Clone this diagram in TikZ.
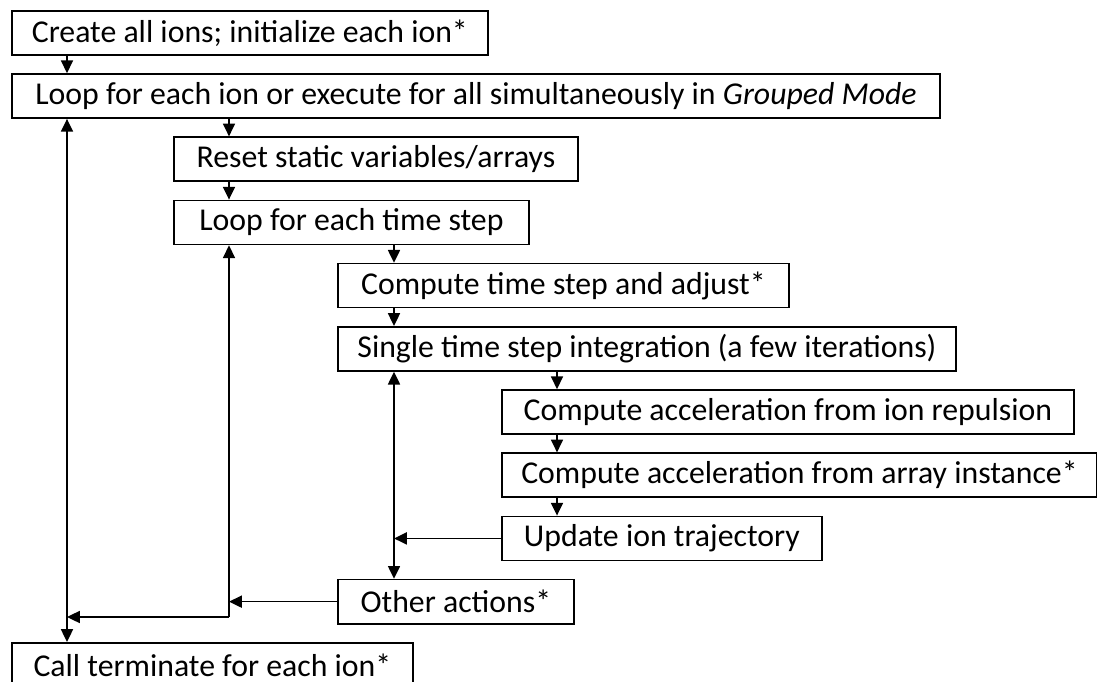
\documentclass[tikz,border=0pt]{standalone}
\usepackage{fontspec}
\setmainfont{Carlito}
\usetikzlibrary{arrows.meta}

\begin{document}
\begin{tikzpicture}[x=0.025cm, y=-0.025cm,
    stepbox/.style={draw, line width=1.2pt, anchor=north west, minimum height=1.1cm, inner xsep=0pt, font=\fontsize{22.6}{27}\selectfont},
    flow/.style={line width=1.2pt, -{Triangle[length=3.2mm, width=3mm]}},
    both/.style={line width=1.2pt, {Triangle[length=3.2mm, width=3mm]}-{Triangle[length=3.2mm, width=3mm]}}]
    \useasboundingbox (0, 0) rectangle (1097, 682);

    % Columns of the connectors
    \coordinate (c0) at (67, 0);
    \coordinate (c1) at (229, 0);
    \coordinate (c2) at (394, 0);
    \coordinate (c3) at (557, 0);

    % Outer loop
    \node[stepbox, minimum width=11.9cm] (create) at (11, 10) {Create all ions; initialize each ion*};
    \node[stepbox, minimum width=23.2cm] (ionloop) at (11, 73.2) {Loop for each ion or execute for all simultaneously in \textit{Grouped Mode}};

    % Time step loop
    \node[stepbox, minimum width=10.1cm] (reset) at (173, 136.4) {Reset static variables/arrays};
    \node[stepbox, minimum width=8.875cm] (steploop) at (173, 199.6) {Loop for each time step};

    % Integration
    \node[stepbox, minimum width=11.275cm] (adjust) at (337, 262.8) {Compute time step and adjust*};
    \node[stepbox, minimum width=15.45cm] (single) at (337, 326) {Single time step integration (a few iterations)};

    % Iterations
    \node[stepbox, minimum width=14.3cm] (repulsion) at (501, 389.2) {Compute acceleration from ion repulsion};
    \node[stepbox, minimum width=14.875cm] (instance) at (501, 452.4) {Compute acceleration from array instance*};
    \node[stepbox, minimum width=8cm] (update) at (501, 515.6) {Update ion trajectory};

    % Closing steps
    \node[stepbox, minimum width=5.9cm] (other) at (337, 578.8) {Other actions*};
    \node[stepbox, minimum width=10.025cm] (term) at (11, 642) {Call terminate for each ion*};

    % Downward arrows
    \draw[flow] (create.south -| c0) -- (ionloop.north -| c0);
    \draw[flow] (ionloop.south -| c1) -- (reset.north -| c1);
    \draw[flow] (reset.south -| c1) -- (steploop.north -| c1);
    \draw[flow] (steploop.south -| c2) -- (adjust.north -| c2);
    \draw[flow] (adjust.south -| c2) -- (single.north -| c2);
    \draw[flow] (single.south -| c3) -- (repulsion.north -| c3);
    \draw[flow] (repulsion.south -| c3) -- (instance.north -| c3);
    \draw[flow] (instance.south -| c3) -- (update.north -| c3);

    % Loop returns
    \draw[both] (single.south -| c2) -- (other.north -| c2);
    \draw[flow] (update.west) -- (update.west -| c2);
    \draw[flow] (other.west) -- (other.west -| c1);
    \coordinate (turn) at (229, 617);
    \draw[flow] (turn) -- (steploop.south -| turn);
    \draw[flow] (turn) -- (turn -| c0);
    \draw[both] (ionloop.south -| c0) -- (term.north -| c0);
\end{tikzpicture}
\end{document}
